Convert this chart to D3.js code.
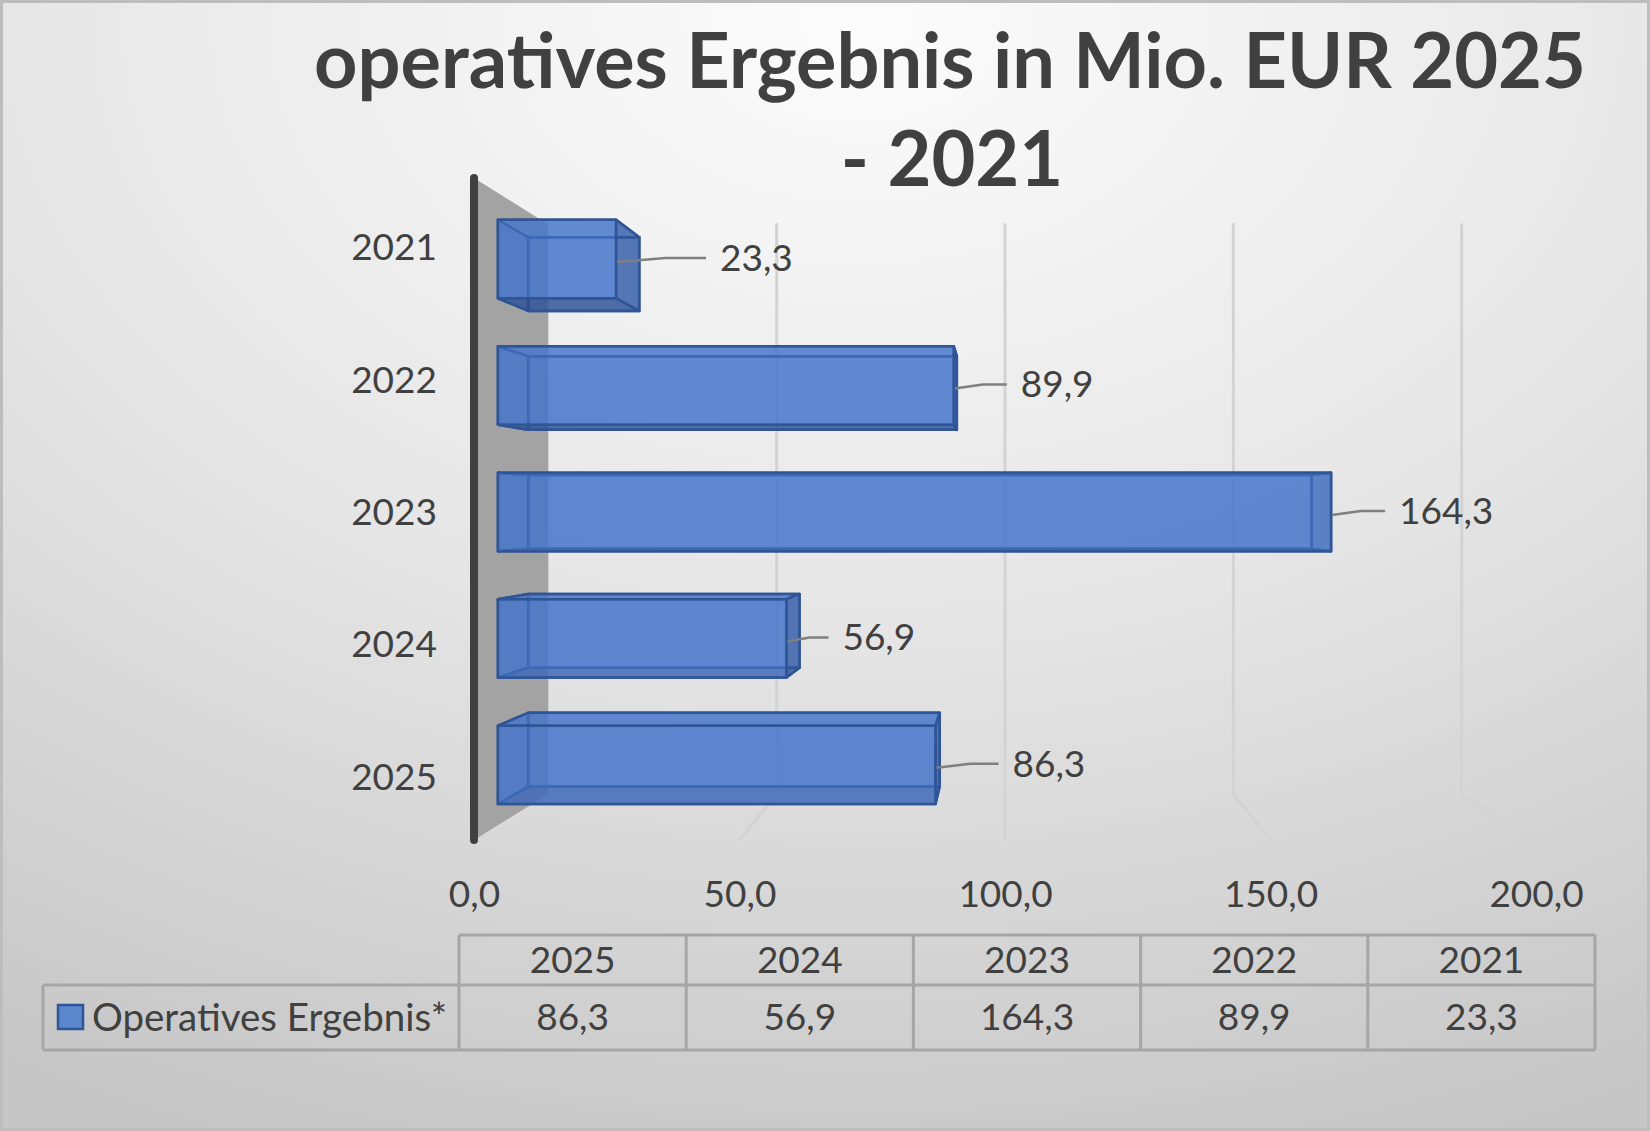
<!DOCTYPE html>
<html><head><meta charset="utf-8">
<script src="https://cdn.jsdelivr.net/npm/d3@7"></script>
<style>html,body{margin:0;padding:0;background:#fff}svg{display:block}</style>
</head><body>
<svg id="chart" width="1650" height="1131"></svg>
<script>
// ---------- data ----------
const categories = ["2021", "2022", "2023", "2024", "2025"];
const values = [23.3, 89.9, 164.3, 56.9, 86.3];
const xTicks = [0, 50, 100, 150, 200];
const tableYears = ["2025", "2024", "2023", "2022", "2021"];
const tableValues = [86.3, 56.9, 164.3, 89.9, 23.3];
const seriesName = "Operatives Ergebnis*";
const titleLines = ["operatives Ergebnis in Mio. EUR 2025", "- 2021"];

// ---------- layout ----------
const W = 1650, H = 1131;
const FONT = "Lato, 'Open Sans', 'Noto Sans', sans-serif";
const TXT = "#404040";
const leaderLen = [90, 53, 54, 42, 63];
const VP = { x: 1005, y: 511 };
const K_WALL_BACK = 0.86, K_BAR_FRONT = 0.955, K_BAR_BACK = 0.898;
const WALL_TOP = 178, WALL_BOTTOM = 840;

const fmt = v => d3.format(".1f")(v).replace(".", ",");
const P = (X, Y, k) => [VP.x + (X - VP.x) * k, VP.y + (Y - VP.y) * k];

const svg = d3.select("#chart");
const defs = svg.append("defs");
const rg = defs.append("radialGradient").attr("id", "bg")
  .attr("cx", 0.52).attr("cy", 0.02).attr("r", 1.05).attr("fx", 0.52).attr("fy", 0.02);
rg.append("stop").attr("offset", 0).attr("stop-color", "#fcfcfc");
rg.append("stop").attr("offset", 0.5).attr("stop-color", "#e6e6e6");
rg.append("stop").attr("offset", 1).attr("stop-color", "#c6c6c6");

svg.append("rect").attr("width", W).attr("height", H).attr("fill", "url(#bg)");
svg.append("rect").attr("x", 1.5).attr("y", 1.5).attr("width", W - 3).attr("height", H - 3)
  .attr("fill", "none").attr("stroke", "#bdbdbd").attr("stroke-width", 3);

// ---------- scales ----------
const x = d3.scaleLinear().domain([0, 200]).range([474, 1536]);
const y = d3.scaleBand().domain(categories).range([181, 843]).paddingInner(0.38).paddingOuter(0.19);

// ---------- title ----------
const title = svg.append("g").attr("font-family", FONT).attr("font-weight", 700).attr("fill", TXT)
  .attr("text-anchor", "middle");
const t1 = title.append("text").attr("x", 950).attr("y", 88).attr("font-size", 80).text(titleLines[0]);
const fs = 80 * 1272 / t1.node().getComputedTextLength();
t1.attr("font-size", fs);
title.append("text").attr("x", 952).attr("y", 186).attr("font-size", fs).text(titleLines[1]);

// ---------- gridlines (back wall + floor) ----------
const line = d3.line();
svg.append("g").selectAll("path").data(xTicks.filter(t => t > 0)).join("path")
  .attr("d", t => line([P(x(t), WALL_TOP, K_WALL_BACK), P(x(t), WALL_BOTTOM, K_WALL_BACK), P(x(t), WALL_BOTTOM, 1)]))
  .attr("fill", "none").attr("stroke", "#d3d3d3").attr("stroke-width", 3).attr("stroke-linecap", "round");

// side wall
svg.append("path")
  .attr("d", line([P(x(0), WALL_TOP, 1), P(x(0), WALL_TOP, K_WALL_BACK), P(x(0), WALL_BOTTOM, K_WALL_BACK), P(x(0), WALL_BOTTOM, 1)]) + "Z")
  .attr("fill", "#a3a3a3");
svg.append("line").attr("x1", x(0)).attr("x2", x(0)).attr("y1", WALL_TOP).attr("y2", WALL_BOTTOM)
  .attr("stroke", "#404040").attr("stroke-width", 8).attr("stroke-linecap", "round");

// ---------- bars (3D boxes) ----------
const barG = svg.append("g");
categories.forEach((c, i) => {
  const X0 = x(0), X1 = x(values[i]), Y0 = y(c), Y1 = y(c) + y.bandwidth();
  const f = (X, Y) => P(X, Y, K_BAR_FRONT), b = (X, Y) => P(X, Y, K_BAR_BACK);
  const faces = [
    { pts: [b(X0, Y0), b(X1, Y0), b(X1, Y1), b(X0, Y1)], fill: "#3f6fc8" },           // back
    { pts: [f(X0, Y0), f(X0, Y1), b(X0, Y1), b(X0, Y0)], fill: "#3f6fc8" },           // left end
    { pts: [f(X0, Y0), f(X1, Y0), b(X1, Y0), b(X0, Y0)], fill: "#4a78cc" },           // top
    { pts: [f(X0, Y1), f(X1, Y1), b(X1, Y1), b(X0, Y1)], fill: "#2a4a85" },           // bottom
    { pts: [f(X1, Y0), f(X1, Y1), b(X1, Y1), b(X1, Y0)], fill: "#34599e" },           // right end
    { pts: [f(X0, Y0), f(X1, Y0), f(X1, Y1), f(X0, Y1)], fill: "#4676cc" }            // front
  ];
  const g = barG.append("g");
  g.selectAll("path").data(faces).join("path")
    .attr("d", d => line(d.pts) + "Z")
    .attr("fill", d => d.fill).attr("fill-opacity", 0.6)
    .attr("stroke", "#2f5597").attr("stroke-width", 2.5).attr("stroke-linejoin", "round");

  // leader + label
  const fx = f(X1, Y0)[0];
  const midY = (f(X1, Y0)[1] + f(X1, Y1)[1]) / 2;
  const L = leaderLen[i];
  const ly = midY - 1;
  svg.append("path")
    .attr("d", line([[fx + 1, midY + 3], [fx + L * 0.55, ly], [fx + L, ly]]))
    .attr("fill", "none").attr("stroke", "#7f7f7f").attr("stroke-width", 2.5);
  svg.append("text").attr("x", fx + L + 14).attr("y", ly).attr("dy", "0.35em")
    .attr("font-family", FONT).attr("font-size", 37).attr("fill", TXT).text(fmt(values[i]));
});

// ---------- axes ----------
const yAxis = svg.append("g").attr("transform", "translate(437,0)")
  .call(d3.axisLeft(y).tickSize(0).tickPadding(0));
yAxis.select(".domain").remove();
yAxis.selectAll("text").attr("font-family", FONT).attr("font-size", 37).attr("fill", TXT).attr("dy", "0.35em");

const xAxis = svg.append("g").attr("transform", "translate(0,894)")
  .call(d3.axisBottom(x).tickValues(xTicks).tickFormat(fmt).tickSize(0).tickPadding(0));
xAxis.select(".domain").remove();
xAxis.selectAll("text").attr("font-family", FONT).attr("font-size", 37).attr("fill", TXT).attr("y", 0).attr("dy", "0.35em");

// ---------- data table ----------
const col = d3.scaleBand().domain(tableYears).range([459, 1595]);
const tb = svg.append("g").attr("stroke", "#a6a6a6").attr("stroke-width", 3).attr("fill", "none");
const T_TOP = 935, T_MID = 985, T_BOT = 1050, T_LEFT = 43;
tb.append("line").attr("x1", col.range()[0]).attr("x2", col.range()[1]).attr("y1", T_TOP).attr("y2", T_TOP);
tb.append("line").attr("x1", T_LEFT).attr("x2", col.range()[1]).attr("y1", T_MID).attr("y2", T_MID);
tb.append("line").attr("x1", T_LEFT).attr("x2", col.range()[1]).attr("y1", T_BOT).attr("y2", T_BOT);
tb.append("line").attr("x1", T_LEFT).attr("x2", T_LEFT).attr("y1", T_MID).attr("y2", T_BOT);
tb.selectAll("line.v").data(tableYears.map(d => col(d)).concat([col.range()[1]])).join("line")
  .attr("class", "v").attr("x1", d => d).attr("x2", d => d).attr("y1", T_TOP).attr("y2", T_BOT);

const tt = svg.append("g").attr("font-family", FONT).attr("font-size", 37).attr("fill", TXT).attr("text-anchor", "middle");
tt.selectAll("text.h").data(tableYears).join("text").attr("class", "h")
  .attr("x", d => col(d) + col.bandwidth() / 2).attr("y", (T_TOP + T_MID) / 2).attr("dy", "0.35em").text(d => d);
tt.selectAll("text.v").data(tableValues).join("text").attr("class", "v")
  .attr("x", (d, i) => col(tableYears[i]) + col.bandwidth() / 2).attr("y", (T_MID + T_BOT) / 2).attr("dy", "0.35em").text(d => fmt(d));

svg.append("rect").attr("x", 58).attr("y", 1005).attr("width", 25).attr("height", 24)
  .attr("fill", "#5b87cf").attr("stroke", "#2f5597").attr("stroke-width", 2.5);
svg.append("text").attr("x", 92).attr("y", (T_MID + T_BOT) / 2).attr("dy", "0.35em")
  .attr("font-family", FONT).attr("font-size", 38.5).attr("fill", TXT).text(seriesName);
</script>
</body></html>
